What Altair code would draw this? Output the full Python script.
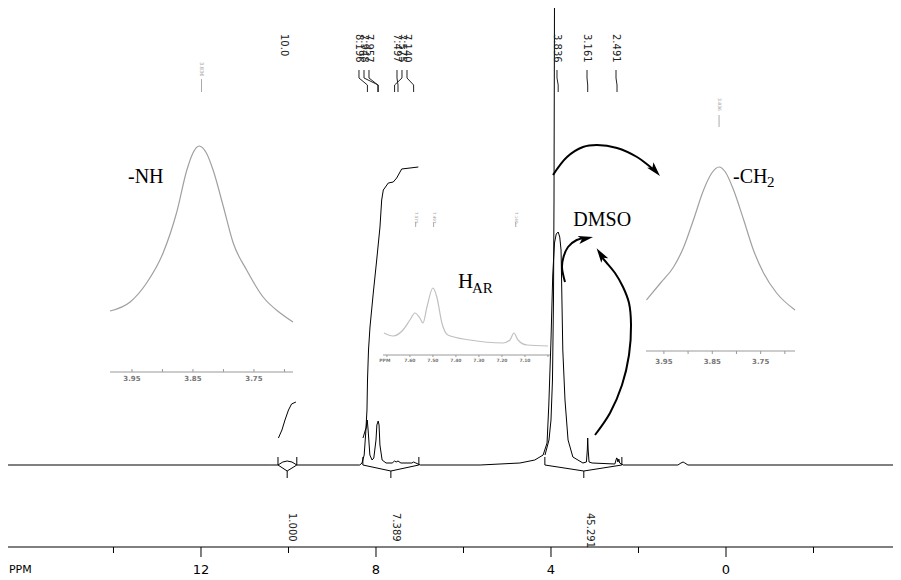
import altair as alt
import pandas as pd

# ---------------- main 1H spectrum (ppm, intensity above baseline) ----------------
spec_ppm = [16.41, 10.42, 10.24, 10.13, 10.03, 9.92, 9.81, 8.37, 8.32, 8.27, 8.23, 8.20, 8.18, 8.14,
            8.09, 8.05, 8.00, 7.98, 7.95, 7.93, 7.91, 7.86, 7.77, 7.63, 7.575, 7.54, 7.497, 7.43,
            7.18, 7.14, 7.09, 6.99, 5.62, 4.71, 4.37, 4.18, 4.09, 4.05, 4.00, 3.96, 3.92, 3.88,
            3.836, 3.80, 3.77, 3.75, 3.73, 3.68, 3.61, 3.50, 3.27, 3.19, 3.17, 3.161, 3.15, 3.13,
            3.06, 2.54, 2.50, 2.491, 2.47, 2.45, 2.43, 2.35, 1.10, 1.03, 0.98, 0.94, 0.87, -3.82]
spec_int = [0, 0, 0, 3, 4, 3, 0, 0, 2, 10, 35, 45, 35, 10,
            5, 7, 25, 40, 44, 40, 20, 5, 2, 2, 4, 3, 4, 2,
            2, 3, 2, 0, 0, 2, 5, 10, 22, 60, 125, 190, 222, 231,
            233, 228, 215, 165, 115, 65, 25, 8, 2, 3, 15, 27, 15, 3,
            2, 1, 7, 7, 3, 6, 2, 0, 0, 2, 3, 2, 0, 0]

# integral curves
int_nh_ppm = [10.23, 10.15, 10.08, 10.00, 9.93, 9.83]
int_nh_val = [27, 35, 45, 55, 61, 63]
int_ar_ppm = [8.297, 8.229, 8.206, 8.194, 8.171, 8.137, 8.062, 7.984, 7.909, 7.870, 7.833,
              7.719, 7.605, 7.527, 7.413, 7.033]
int_ar_val = [27, 37, 55, 85, 115, 138, 172, 205, 238, 265, 275, 282, 283, 287, 296, 298]
int_al_ppm = [4.137, 4.046, 4.000, 3.966, 3.943, 3.931, 3.920, 3.909]
int_al_val = [10, 25, 45, 85, 165, 265, 465, 520]

# integration regions: start, end, centre
reg_start = [10.24, 8.30, 4.14]
reg_end = [9.81, 7.02, 2.38]
reg_mid = [10.03, 7.66, 3.25]
integ_pos = [9.92, 7.54, 3.11]
integ_txt = ["1.000", "7.389", "45.291"]

# peak labels
peak_lab_pos = [10.10, 8.389, 8.274, 8.160, 7.520, 7.406, 7.291, 3.863, 3.177, 2.514]
peak_pos = [10.033, 8.196, 7.948, 7.957, 7.497, 7.575, 7.140, 3.836, 3.161, 2.491]
peak_txt = ["10.0", "8.196", "7.948", "7.957", "7.497", "7.575", "7.140", "3.836", "3.161", "2.491"]

# axis
tick_major = [12, 8, 4, 0]
tick_minor = [14, 10, 6, 2, -2]
tick_labels = ["12", "8", "4", "0"]

# left inset (-NH)
nh_x = [3.986, 3.953, 3.926, 3.899, 3.877, 3.860, 3.850, 3.840, 3.828, 3.817, 3.800, 3.784,
        3.762, 3.735, 3.707, 3.686]
nh_y = [154, 163, 182, 212, 252, 295, 312, 319, 312, 295, 258, 222, 195, 168, 152, 143]
# right inset (-CH2)
ch_x = [3.986, 3.957, 3.930, 3.909, 3.889, 3.868, 3.851, 3.836, 3.823, 3.806, 3.785, 3.765,
        3.744, 3.717, 3.679]
ch_y = [165, 182, 198, 218, 245, 275, 292, 298, 293, 275, 245, 215, 192, 172, 155]
inset_ticks = [3.95, 3.90, 3.85, 3.80, 3.75, 3.70]
inset_tick_lab = [3.95, 3.85, 3.75]
inset_tick_txt = ["3.95", "3.85", "3.75"]
# middle inset (H_AR)
ar_x = [7.713, 7.674, 7.630, 7.600, 7.578, 7.557, 7.543, 7.526, 7.500, 7.483, 7.461, 7.435,
        7.339, 7.196, 7.165, 7.148, 7.130, 7.091, 7.000]
ar_y = [132, 129, 135, 145, 152, 147, 142, 158, 177, 168, 142, 130, 125, 122, 125, 132, 125, 120, 119]
ar_ticks = [7.7, 7.6, 7.5, 7.4, 7.3, 7.2, 7.1, 7.0]
ar_tick_lab = [7.709, 7.6, 7.5, 7.4, 7.3, 7.2, 7.1]
ar_tick_txt = ["PPM", "7.60", "7.50", "7.40", "7.30", "7.20", "7.10"]
ar_peaks = [7.575, 7.497, 7.140]

# arrows (ppm, intensity)
arr1_x = [3.954, 3.634, 3.269, 2.949, 2.491, 2.034, 1.783, 1.623]
arr1_y = [290, 308, 318, 320, 317, 308, 300, 294]
arr2_x = [3.680, 3.749, 3.714, 3.611, 3.413, 3.223]
arr2_y = [183, 198, 208, 218, 225, 227]
arr3_x = [2.994, 2.651, 2.377, 2.217, 2.171, 2.217, 2.354, 2.537, 2.743, 2.880]
arr3_y = [30, 52, 80, 110, 140, 162, 178, 192, 203, 210]
head_x = [1.623, 3.209, 2.862]
head_y = [294.6, 226.5, 210.5]
head_a = [139, 78, 326.5]

# ---------------- layout constants ----------------
W, H = 885, 568
AXIS_Y, MAJ_Y, MIN_Y, LAB_Y = -82, -92, -88, -105
LABEL_TOP = 431
INTEG_TOP = -48
MONO = "DejaVu Sans"
SERIF = "Liberation Serif"

XS = alt.Scale(domain=[-3.817, 16.411], reverse=True, nice=False, zero=False)
YS = alt.Scale(domain=[-111, 457], nice=False, zero=False)


def X(f, sc=XS):
    return alt.X(f, type="quantitative", scale=sc, axis=None)


def Y(f="y"):
    return alt.Y(f, type="quantitative", scale=YS, axis=None)


def paths(series):
    rows = []
    for k, (xs, ys) in enumerate(series):
        for i, (a, b) in enumerate(zip(xs, ys)):
            rows.append({"id": k, "i": i, "x": a, "y": b})
    return pd.DataFrame(rows)


# ---------------- main layers ----------------
spectrum = alt.Chart(pd.DataFrame({"x": spec_ppm, "y": spec_int, "i": range(len(spec_ppm))})).mark_line(
    color="black", strokeWidth=1, clip=True).encode(x=X("x"), y=Y(), order="i:Q")

integrals = alt.Chart(paths([(int_nh_ppm, int_nh_val), (int_ar_ppm, int_ar_val),
                             (int_al_ppm, int_al_val)])).mark_line(
    color="black", strokeWidth=1, clip=True).encode(x=X("x"), y=Y(), detail="id:N", order="i:Q")

br_series = []
for s, e, m in zip(reg_start, reg_end, reg_mid):
    br_series.append(([s, s, m, e, e], [8, 0, -6, 0, 8]))
brackets = alt.Chart(paths(br_series)).mark_line(color="black", strokeWidth=1).encode(
    x=X("x"), y=Y(), detail="id:N", order="i:Q")
br_ticks = alt.Chart(pd.DataFrame({"x": reg_mid, "y": [-6] * 3, "y2": [-13] * 3})).mark_rule(
    color="black", strokeWidth=1).encode(x=X("x"), y=Y(), y2="y2:Q")

integ_labels = alt.Chart(pd.DataFrame({"x": integ_pos, "y": [INTEG_TOP] * 3, "t": integ_txt})).mark_text(
    angle=90, align="left", baseline="middle", font=MONO, fontSize=10, color="#222").encode(
    x=X("x"), y=Y(), text="t:N")

peak_labels = alt.Chart(pd.DataFrame({"x": peak_lab_pos, "y": [LABEL_TOP] * len(peak_txt),
                                      "t": peak_txt})).mark_text(
    angle=90, align="left", baseline="middle", font=MONO, fontSize=10, color="#222").encode(
    x=X("x"), y=Y(), text="t:N")

lead_series = []
for lp, pp in list(zip(peak_lab_pos, peak_pos))[1:]:
    lead_series.append(([lp, lp, pp, pp], [395, 387, 380, 373]))
leaders = alt.Chart(paths(lead_series)).mark_line(color="#222", strokeWidth=1).encode(
    x=X("x"), y=Y(), detail="id:N", order="i:Q")

axis_line = alt.Chart(pd.DataFrame({"x": [16.411], "x2": [-3.817], "y": [AXIS_Y]})).mark_rule(
    color="black", strokeWidth=1).encode(x=X("x"), x2="x2:Q", y=Y())
maj = alt.Chart(pd.DataFrame({"x": tick_major, "y": [AXIS_Y] * 4, "y2": [MAJ_Y] * 4})).mark_rule(
    color="black", strokeWidth=1).encode(x=X("x"), y=Y(), y2="y2:Q")
mnr = alt.Chart(pd.DataFrame({"x": tick_minor, "y": [AXIS_Y] * 5, "y2": [MIN_Y] * 5})).mark_rule(
    color="black", strokeWidth=1).encode(x=X("x"), y=Y(), y2="y2:Q")
tlabs = alt.Chart(pd.DataFrame({"x": tick_major, "y": [LAB_Y] * 4, "t": tick_labels})).mark_text(
    font=MONO, fontSize=13, color="black", baseline="middle").encode(x=X("x"), y=Y(), text="t:N")
ppm_lab = alt.Chart(pd.DataFrame({"x": [16.39], "y": [LAB_Y], "t": ["PPM"]})).mark_text(
    font=MONO, fontSize=11, color="black", align="left", baseline="middle").encode(
    x=X("x"), y=Y(), text="t:N")

big_txt = alt.Chart(pd.DataFrame({"x": [13.669, -0.16, 3.490], "y": [282, 282, 239],
                                  "t": ["-NH", "-CH", "DMSO"]})).mark_text(
    font=SERIF, fontSize=20, color="black", align="left", baseline="alphabetic").encode(
    x=X("x"), y=Y(), text="t:N")
h_txt = alt.Chart(pd.DataFrame({"x": [6.126], "y": [177], "t": ["H"]})).mark_text(
    font=SERIF, fontSize=21, color="black", align="left", baseline="alphabetic").encode(
    x=X("x"), y=Y(), text="t:N")
sub_txt = alt.Chart(pd.DataFrame({"x": [-0.937, 5.806], "y": [278, 172], "t": ["2", "AR"]})).mark_text(
    font=SERIF, fontSize=15, color="black", align="left", baseline="alphabetic").encode(
    x=X("x"), y=Y(), text="t:N")

arrows = alt.Chart(paths([(arr1_x, arr1_y), (arr2_x, arr2_y), (arr3_x, arr3_y)])).mark_line(
    color="black", strokeWidth=2, interpolate="catmull-rom").encode(
    x=X("x"), y=Y(), detail="id:N", order="i:Q")
heads = alt.Chart(pd.DataFrame({"x": head_x, "y": head_y, "a": head_a})).mark_point(
    shape="M0,-1L0.55,0.95L0,0.5L-0.55,0.95Z", filled=True, size=230, color="black", opacity=1).encode(
    x=X("x"), y=Y(), angle=alt.Angle("a:Q", scale=None))

main = alt.layer(spectrum, integrals, brackets, br_ticks, integ_labels, peak_labels, leaders,
                 axis_line, maj, mnr, tlabs, ppm_lab, big_txt, h_txt, sub_txt, arrows, heads)


# ---------------- insets ----------------
def inset(cx, cy, dom, rng, axis_y, ticks, lab_pos, lab_txt, lab_y, lab_size, peaks, peak_top,
          pl_top, pl_bot, peak_size, curve_color, tick_len):
    sc = alt.Scale(domain=dom, range=rng, reverse=True, nice=False, zero=False)
    curve = alt.Chart(pd.DataFrame({"x": cx, "y": cy, "i": range(len(cx))})).mark_line(
        color=curve_color, strokeWidth=1.2, interpolate="monotone").encode(
        x=X("x", sc), y=Y(), order="i:Q")
    aline = alt.Chart(pd.DataFrame({"x": [dom[1]], "x2": [dom[0]], "y": [axis_y]})).mark_rule(
        color="#999", strokeWidth=1).encode(x=X("x", sc), x2="x2:Q", y=Y())
    tk = alt.Chart(pd.DataFrame({"x": ticks, "y": [axis_y] * len(ticks),
                                 "y2": [axis_y + tick_len] * len(ticks)})).mark_rule(
        color="#999", strokeWidth=1).encode(x=X("x", sc), y=Y(), y2="y2:Q")
    tl = alt.Chart(pd.DataFrame({"x": lab_pos, "y": [lab_y] * len(lab_pos), "t": lab_txt})).mark_text(
        font=MONO, fontSize=lab_size, fontWeight="bold", color="#777", baseline="middle").encode(
        x=X("x", sc), y=Y(), text="t:N")
    pk = alt.Chart(pd.DataFrame({"x": peaks, "y": [peak_top] * len(peaks),
                                 "t": [f"{p:.3f}" for p in peaks]})).mark_text(
        font=MONO, fontSize=peak_size, angle=90, align="left", baseline="middle", color="#999").encode(
        x=X("x", sc), y=Y(), text="t:N")
    pln = alt.Chart(pd.DataFrame({"x": peaks, "y": [pl_top] * len(peaks),
                                  "y2": [pl_bot] * len(peaks)})).mark_rule(
        color="#aaa", strokeWidth=1).encode(x=X("x", sc), y=Y(), y2="y2:Q")
    return alt.layer(curve, aline, tk, tl, pk, pln)


left = inset(nh_x, nh_y, [3.686, 3.986], [102, 285], 93, inset_ticks, inset_tick_lab, inset_tick_txt,
             86, 7, [3.836], 403, 386, 373, 5, "#a0a0a0", 3)
right = inset(ch_x, ch_y, [3.679, 3.987], [638, 787], 114, inset_ticks, inset_tick_lab, inset_tick_txt,
              103, 7, [3.836], 367, 350, 338, 4.5, "#a0a0a0", -3)
mid = inset(ar_x, ar_y, [6.991, 7.717], [375, 542], 110, ar_ticks, ar_tick_lab, ar_tick_txt,
            104, 4.5, ar_peaks, 253, 243, 238, 4, "#c0c0c0", -2)

chart = alt.layer(main, left, mid, right).resolve_scale(x="independent").properties(
    width=W, height=H, autosize=alt.AutoSizeParams(type="none"), padding=0,
    background="white").configure_view(stroke=None)

chart.save("out.html", embed_options={"renderer": "svg", "actions": False})
